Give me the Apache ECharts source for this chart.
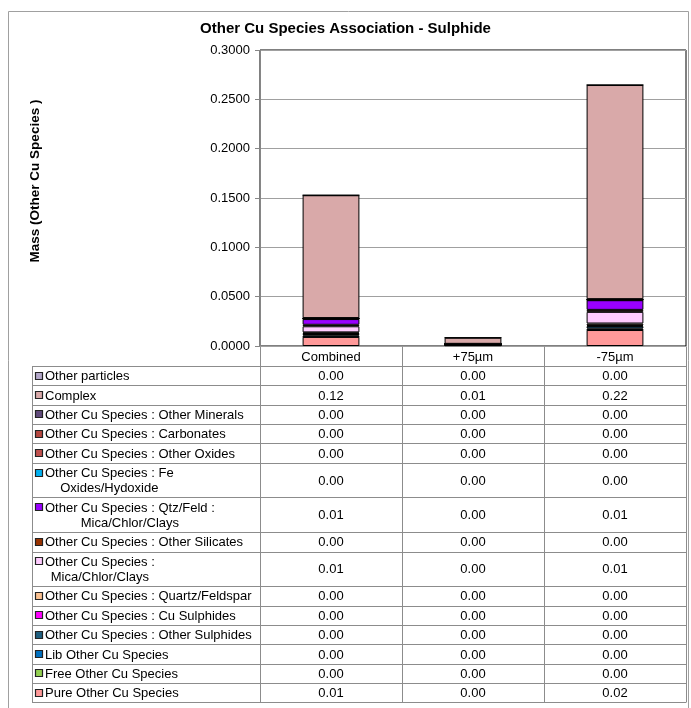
<!DOCTYPE html>
<html>
<head>
<meta charset="utf-8">
<script src="https://cdn.jsdelivr.net/npm/echarts@6/dist/echarts.min.js"></script>
<style>
  html, body { margin: 0; padding: 0; background: #fff; }
  #chart { width: 691px; height: 708px; }
</style>
</head>
<body>
<div id="chart"></div>
<script>
// categories along the x axis
const categories = ['Combined', '+75\u00b5m', '-75\u00b5m'];

// series, listed top of the stack first (same order as the data table)
const seriesNames = [
  'Other particles',
  'Complex',
  'Other Cu Species : Other Minerals',
  'Other Cu Species : Carbonates',
  'Other Cu Species : Other Oxides',
  'Other Cu Species : Fe\nOxides/Hydoxide',
  'Other Cu Species : Qtz/Feld :\nMica/Chlor/Clays',
  'Other Cu Species : Other Silicates',
  'Other Cu Species :\nMica/Chlor/Clays',
  'Other Cu Species : Quartz/Feldspar',
  'Other Cu Species : Cu Sulphides',
  'Other Cu Species : Other Sulphides',
  'Lib Other Cu Species',
  'Free Other Cu Species',
  'Pure Other Cu Species'
];

const seriesColors = [
  '#b3a7c9', '#d9a9a9', '#604a7b', '#b5473f', '#c0504d',
  '#00b0f0', '#9900ff', '#993300', '#ffccff', '#fac090',
  '#ff00ff', '#1f5f7f', '#0070c0', '#92d050', '#ff9999'
];

// values per series: [Combined, +75um, -75um]
const otherParticles = [0.0000, 0.0000, 0.0000];
const complex        = [0.1245, 0.0062, 0.2170];
const otherMinerals  = [0.0003, 0.0000, 0.0004];
const carbonates     = [0.0001, 0.0000, 0.0001];
const otherOxides    = [0.0002, 0.0000, 0.0002];
const feOxides       = [0.0004, 0.0000, 0.0004];
const qtzFeldMica    = [0.0058, 0.0003, 0.0098];
const otherSilicates = [0.0015, 0.0002, 0.0020];
const micaChlor      = [0.0062, 0.0004, 0.0118];
const quartzFeld     = [0.0010, 0.0001, 0.0018];
const cuSulphides    = [0.0006, 0.0000, 0.0008];
const otherSulphides = [0.0015, 0.0003, 0.0025];
const libOtherCu     = [0.0012, 0.0001, 0.0012];
const freeOtherCu    = [0.0003, 0.0000, 0.0003];
const pureOtherCu    = [0.0092, 0.0008, 0.0162];

const seriesValues = [
  otherParticles, complex, otherMinerals, carbonates, otherOxides,
  feOxides, qtzFeldMica, otherSilicates, micaChlor, quartzFeld,
  cuSulphides, otherSulphides, libOtherCu, freeOtherCu, pureOtherCu
];

const yTicks = { min: 0, max: 0.3, interval: 0.05 };

// layout
const plot = { left: 260, top: 50, right: 686, bottom: 346 };
const tableLeft = 32;
const headerBottom = 366;
const singleRow = 19.35, doubleRow = 34.7;
const gridGrey = '#a0a0a0';
const tableGrey = '#8c8c8c';
const font = '"Liberation Sans", Arial, sans-serif';

const measureCtx = document.createElement('canvas').getContext('2d');
measureCtx.font = '13px ' + font;
function textWidth(s) { return measureCtx.measureText(s).width; }

// stacked series: bottom of stack first
const series = [];
for (let i = seriesNames.length - 1; i >= 0; i--) {
  series.push({
    name: seriesNames[i].replace('\n', ' '),
    type: 'bar',
    stack: 'total',
    barWidth: '40%',
    data: seriesValues[i],
    itemStyle: { color: seriesColors[i], borderColor: '#000', borderWidth: 1 },
    emphasis: { disabled: true }
  });
}

// data table drawn under the axis
const graphics = [];
const colW = (plot.right - plot.left) / categories.length;

graphics.push({
  type: 'rect', z: 0, silent: true,
  shape: { x: 8.5, y: 11.5, width: 680, height: 720 },
  style: { fill: null, stroke: gridGrey, lineWidth: 1 }
});

// y axis title, sits a little above the plot centre as in the original
graphics.push({
  type: 'text', silent: true, z: 10,
  x: 35, y: 181, rotation: Math.PI / 2,
  style: { text: 'Mass (Other Cu Species )', font: 'bold 13.5px ' + font, fill: '#000', align: 'center', verticalAlign: 'middle' }
});

let y = headerBottom;
const rowLines = [y];
seriesNames.forEach((name, i) => {
  const lines = name.split('\n');
  const h = lines.length > 1 ? doubleRow : singleRow;
  const cy = y + h / 2 + 1;
  const lineH = 15;
  const firstY = cy - (lines.length - 1) * lineH / 2;
  // legend swatch
  graphics.push({
    type: 'rect', silent: true, z: 10,
    shape: { x: 35.5, y: Math.round(firstY) - 4.5, width: 7, height: 7 },
    style: { fill: seriesColors[i], stroke: '#222', lineWidth: 1.2 }
  });
  // label, wrapped lines centred on the first line
  const blockW = Math.max(...lines.map(textWidth));
  lines.forEach((ln, k) => {
    graphics.push({
      type: 'text', silent: true, z: 10,
      x: 45 + blockW / 2, y: firstY + k * lineH,
      style: { text: ln, font: '13px ' + font, fill: '#000', align: 'center', verticalAlign: 'middle' }
    });
  });
  // values
  seriesValues[i].forEach((v, c) => {
    graphics.push({
      type: 'text', silent: true, z: 10,
      x: plot.left + colW * (c + 0.5), y: cy,
      style: { text: v.toFixed(2), font: '13px ' + font, fill: '#000', align: 'center', verticalAlign: 'middle' }
    });
  });
  y += h;
  rowLines.push(y);
});

rowLines.forEach(ly => {
  graphics.push({
    type: 'line', silent: true, z: 5,
    shape: { x1: tableLeft, y1: Math.round(ly) + 0.5, x2: plot.right, y2: Math.round(ly) + 0.5 },
    style: { stroke: tableGrey, lineWidth: 1 }
  });
});
const tableBottom = Math.round(y) + 0.5;
[tableLeft, plot.left, plot.left + colW, plot.left + 2 * colW, plot.right].forEach((lx, k) => {
  graphics.push({
    type: 'line', silent: true, z: 5,
    shape: { x1: Math.round(lx) + 0.5, y1: k === 0 ? headerBottom + 0.5 : plot.bottom + 0.5, x2: Math.round(lx) + 0.5, y2: tableBottom },
    style: { stroke: tableGrey, lineWidth: 1 }
  });
});

const chart = echarts.init(document.getElementById('chart'), null, { renderer: 'canvas' });
chart.setOption({
  animation: false,
  backgroundColor: '#fff',
  textStyle: { fontFamily: font },
  title: {
    text: 'Other Cu Species Association - Sulphide',
    left: 'center', top: 16,
    textStyle: { fontSize: 15, fontWeight: 'bold', color: '#000', fontFamily: font }
  },
  grid: {
    left: plot.left, top: plot.top,
    width: plot.right - plot.left, height: plot.bottom - plot.top,
    show: true, borderColor: '#000', borderWidth: 1, backgroundColor: '#fff',
    containLabel: false
  },
  xAxis: {
    type: 'category',
    data: categories,
    axisLine: { show: true, lineStyle: { color: gridGrey, width: 1 } },
    axisTick: { show: false },
    axisLabel: { color: '#000', fontSize: 13, margin: 5, fontFamily: font }
  },
  yAxis: {
    type: 'value',
    min: yTicks.min, max: yTicks.max, interval: yTicks.interval,
    axisLine: { show: true, lineStyle: { color: '#868686', width: 1 } },
    axisTick: { show: true, length: 5, lineStyle: { color: '#868686' } },
    axisLabel: { color: '#000', fontSize: 13, margin: 10, fontFamily: font, formatter: v => v.toFixed(4) },
    splitLine: { show: true, lineStyle: { color: gridGrey, width: 1 } }
  },
  legend: { show: false },
  tooltip: { show: false },
  series: series,
  graphic: graphics
});
</script>
</body>
</html>
